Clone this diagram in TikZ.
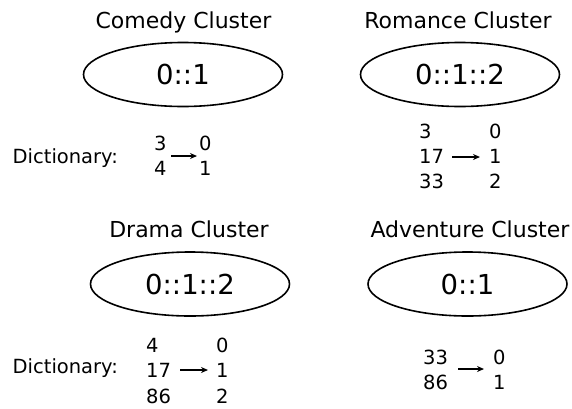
\documentclass[tikz,border=0pt]{standalone}
\usepackage{fontspec}
\setmainfont{DejaVu Sans}
\usetikzlibrary{shapes.geometric,arrows.meta}
\begin{document}
\begin{tikzpicture}[x=1pt,y=-1pt,
  title/.style={anchor=base,inner sep=0pt,font=\fontsize{22}{26}\selectfont},
  txt/.style={anchor=base west,inner sep=0pt,font=\fontsize{19.5}{23}\selectfont},
  cluster/.style={draw,ellipse,line width=1.6pt,minimum width=199pt,minimum height=64pt,inner sep=0pt,font=\fontsize{27.5}{30}\selectfont},
  maparrow/.style={line width=1.4pt,-{Stealth[length=7pt,width=6pt]}}]
\useasboundingbox (0,0) rectangle (572,408);
% Comedy
\node[title] (t1) at (183.5,28) {Comedy Cluster};
\node[cluster] (e1) at (183,74.5) {0::1};
\node[txt] (d1) at (12.5,163) {Dictionary:};
\node[txt] (c1a) at (154,150) {3};
\node[txt] (c1b) at (154,175) {4};
\node[txt] (c1c) at (199,150) {0};
\node[txt] (c1d) at (199,175) {1};
\coordinate (a1s) at (171,156);
\coordinate (a1e) at (197,156);
\draw[maparrow] (a1s) -- (a1e);
% Romance
\node[title] (t2) at (458,28) {Romance Cluster};
\node[cluster] (e2) at (460,74.5) {0::1::2};
\node[txt] (r2a) at (419,138) {3};
\node[txt] (r2b) at (419,163) {17};
\node[txt] (r2c) at (419,188) {33};
\node[txt] (r2d) at (489,138) {0};
\node[txt] (r2e) at (489,163) {1};
\node[txt] (r2f) at (489,188) {2};
\coordinate (a2s) at (452,157);
\coordinate (a2e) at (480,157);
\draw[maparrow] (a2s) -- (a2e);
% Drama
\node[title] (t3) at (189,237) {Drama Cluster};
\node[cluster] (e3) at (190,284) {0::1::2};
\node[txt] (d3) at (12.5,373) {Dictionary:};
\node[txt] (r3a) at (146,352) {4};
\node[txt] (r3b) at (146,377) {17};
\node[txt] (r3c) at (146,403) {86};
\node[txt] (r3d) at (216,352) {0};
\node[txt] (r3e) at (216,377) {1};
\node[txt] (r3f) at (216,403) {2};
\coordinate (a3s) at (180,370);
\coordinate (a3e) at (208,370);
\draw[maparrow] (a3s) -- (a3e);
% Adventure
\node[title] (t4) at (470,237) {Adventure Cluster};
\node[cluster] (e4) at (467.5,284) {0::1};
\node[txt] (r4a) at (423,364) {33};
\node[txt] (r4b) at (423,389) {86};
\node[txt] (r4c) at (493,364) {0};
\node[txt] (r4d) at (493,389) {1};
\coordinate (a4s) at (458,369);
\coordinate (a4e) at (484,369);
\draw[maparrow] (a4s) -- (a4e);
\end{tikzpicture}
\end{document}
